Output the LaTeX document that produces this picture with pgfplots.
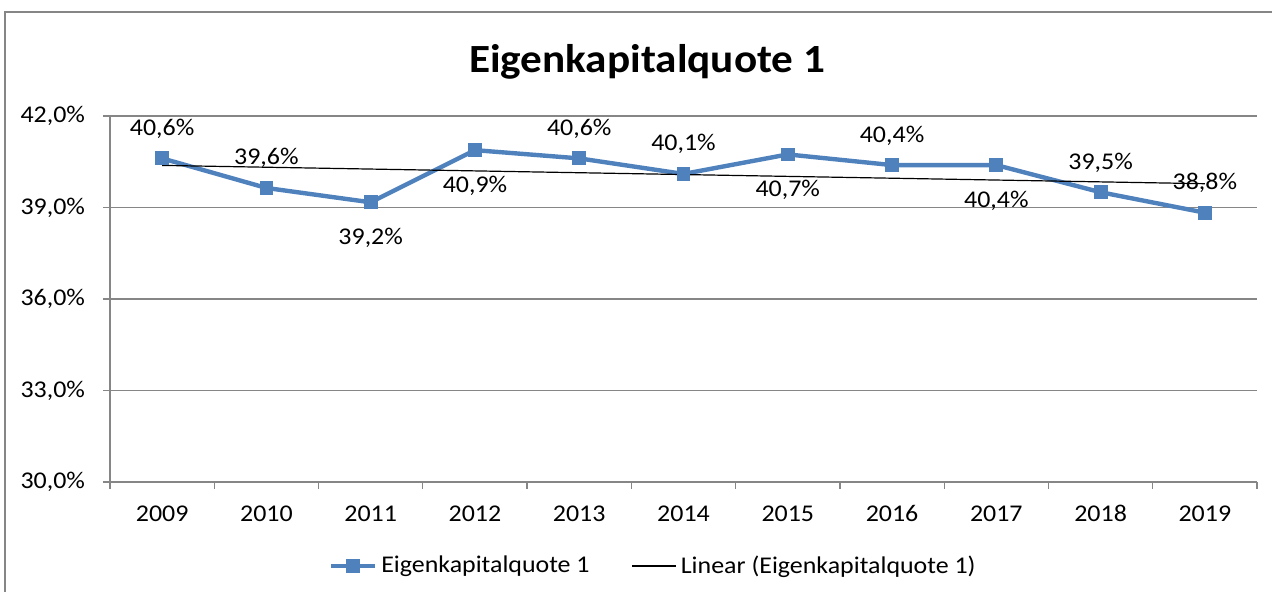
\documentclass[border=0pt]{standalone}
\usepackage{fontspec}
\setmainfont{Carlito}[FakeStretch=1.08]
\usepackage{pgfplots}
\usepackage{pgfplotstable}
\pgfplotsset{compat=1.18}
\definecolor{serblue}{RGB}{79,129,189}
\definecolor{gridgray}{RGB}{134,134,134}
\definecolor{framegray}{RGB}{134,134,134}
\pgfplotstableread{
x y lab dy
0 40.61 {40,6\%} 15.5
1 39.64 {39,6\%} 15.5
2 39.17 {39,2\%} -17
3 40.88 {40,9\%} -17
4 40.61 {40,6\%} 15.5
5 40.10 {40,1\%} 15.5
6 40.74 {40,7\%} -17
7 40.39 {40,4\%} 15.5
8 40.39 {40,4\%} -17
9 39.50 {39,5\%} 15.5
10 38.83 {38,8\%} 15.5
}\datatable
\begin{document}
\begin{tikzpicture}
\path[use as bounding box] (-55pt,-55pt) rectangle (581pt,241pt);
\draw[framegray, line width=0.8pt] (-52.5pt,-56pt) -- (-52.5pt,235pt) -- (582pt,235pt);
\node[font=\fontsize{20}{24}\selectfont\bfseries] at (268.5pt,210pt) {Eigenkapitalquote 1};
\begin{axis}[
  at={(0pt,0pt)}, anchor=south west,
  scale only axis, width=573.5pt, height=183pt,
  xmin=-0.5, xmax=10.5, ymin=30, ymax=42,
  axis x line*=bottom, axis y line*=left,
  axis line style={gridgray, line width=0.6pt},
  xtick={0,...,10},
  xticklabels={2009,2010,2011,2012,2013,2014,2015,2016,2017,2018,2019},
  major x tick style={draw=none},
  minor xtick={-0.5,0.5,...,10.5},
  minor x tick style={gridgray, line width=0.6pt},
  minor tick length=3.5pt,
  tick align=outside,
  ytick={30,33,36,39,42},
  major tick length=3.5pt,
  major y tick style={gridgray, line width=0.6pt},
  ymajorgrids, grid style={gridgray, line width=0.6pt},
  yticklabel={\pgfmathprintnumber[fixed,fixed zerofill,precision=1,use comma]{\tick}\%},
  /pgf/number format/assume math mode=true,
  ticklabel style={font=\fontsize{12}{14}\selectfont, text=black},
  xticklabel style={anchor=center, text height=8pt, text depth=0pt, inner sep=0pt, yshift=-12.5pt},
  yticklabel style={xshift=-5.5pt},
  legend style={at={(0.4745,-0.2295)}, anchor=center, draw=none, fill=none,
    legend columns=2, font=\fontsize{12}{14}\selectfont,
    /tikz/every even column/.append style={column sep=19pt}},
  legend image code/.code={\draw[#1] (0pt,0pt) -- (22pt,0pt); \draw[#1, mark repeat=1] plot coordinates {(11pt,0pt)};},
  clip=false,
]
\addplot[serblue, line width=2.2pt, mark=square*, mark size=3.2pt, mark options={solid, fill=serblue, line width=0.5pt},
  nodes near coords={\pgfplotspointmeta},
  point meta=explicit symbolic,
  visualization depends on={\thisrow{dy} \as \dy},
  every node near coord/.append style={anchor=center, yshift=\dy pt, font=\fontsize{12}{14}\selectfont, text=black, inner sep=0pt, text height=8pt, text depth=0pt},
] table[x=x, y=y, meta=lab] {\datatable};
\addlegendentry{Eigenkapitalquote 1}
\addplot[black, line width=0.6pt] coordinates {(0,40.38) (10,39.78)};
\addlegendentry{Linear (Eigenkapitalquote 1)}
\end{axis}
\end{tikzpicture}
\end{document}
